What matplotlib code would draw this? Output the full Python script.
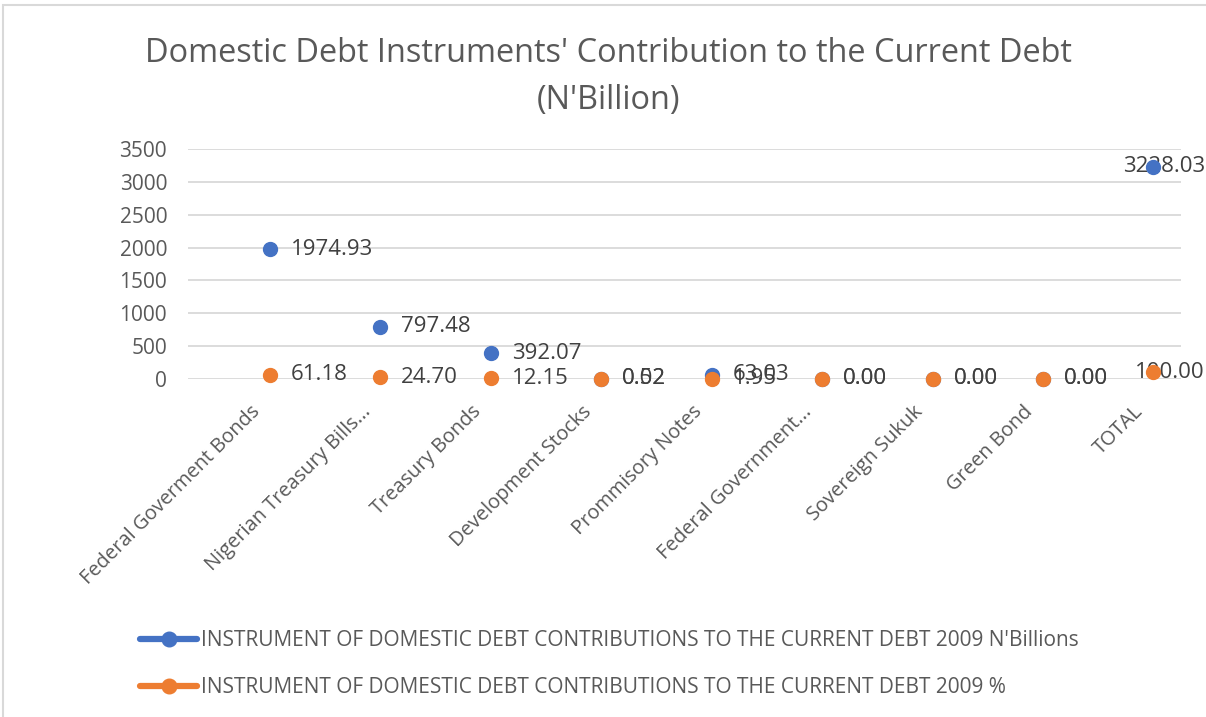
import matplotlib
matplotlib.use("Agg")
import matplotlib.pyplot as plt
from matplotlib.lines import Line2D
from matplotlib.patches import Rectangle
from matplotlib.transforms import ScaledTranslation

plt.rcParams['font.family'] = ['Open Sans', 'DejaVu Sans']

categories = ["Federal Goverment Bonds", "Nigerian Treasury Bills...", "Treasury Bonds",
              "Development Stocks", "Prommisory Notes", "Federal Government...",
              "Sovereign Sukuk", "Green Bond", "TOTAL"]
billions = [1974.93, 797.48, 392.07, 0.52, 63.03, 0.00, 0.00, 0.00, 3228.03]
percent = [61.18, 24.70, 12.15, 0.02, 1.95, 0.00, 0.00, 0.00, 100.00]
yticks = [0, 500, 1000, 1500, 2000, 2500, 3000, 3500]

title_l1 = "Domestic Debt Instruments' Contribution to the Current Debt"
title_l2 = "(N'Billion)"
label_bn = "INSTRUMENT OF DOMESTIC DEBT CONTRIBUTIONS TO THE CURRENT DEBT 2009 N'Billions"
label_pct = "INSTRUMENT OF DOMESTIC DEBT CONTRIBUTIONS TO THE CURRENT DEBT 2009 %"

BLUE = "#4472C4"
ORANGE = "#ED7D31"
GRID = "#D9D9D9"
TICK = "#595959"
LABEL = "#404040"

W, H = 1206, 717
fig = plt.figure(figsize=(W / 100, H / 100), dpi=100)
fig.patch.set_facecolor("white")

# chart-area border (top and left edges visible)
fig.patches.append(Rectangle((3 / W, -0.1), 1.2, (H - 5) / H + 0.1,
                             transform=fig.transFigure, fill=False,
                             edgecolor=GRID, linewidth=1.5))

left, right = 188 / W, 1181 / W
bottom, top = 1 - 379 / H, 1 - 149 / H
ax = fig.add_axes([left, bottom, right - left, top - bottom])

x = list(range(len(categories)))
ax.set_xlim(-0.743, 8.25)
ax.set_ylim(0, 3500)
ax.set_yticks(yticks)
ax.grid(axis="y", color=GRID, linewidth=1.3)
ax.set_axisbelow(True)
for s in ax.spines.values():
    s.set_visible(False)
ax.tick_params(axis="y", length=0, pad=15, labelsize=15, labelcolor=TICK)
ax.tick_params(axis="x", length=0, pad=12, labelsize=14.4, labelcolor=TICK)
ax.set_xticks(x)
ax.set_xticklabels(categories, rotation=45, ha="right", va="top",
                   rotation_mode="anchor")
shift = ScaledTranslation(-20 / 100, -6 / 100, fig.dpi_scale_trans)
for lab in ax.get_xticklabels():
    lab.set_transform(lab.get_transform() + shift)

ms = 10
ax.plot(x, billions, linestyle="none", marker="o", markersize=ms, color=BLUE,
        clip_on=False, zorder=4)
ax.plot(x, percent, linestyle="none", marker="o", markersize=ms, color=ORANGE,
        clip_on=False, zorder=5)

for series in (billions, percent):
    for i, v in enumerate(series):
        if i == len(series) - 1:
            ax.annotate(f"{v:.2f}", (i, v), xytext=(37, 0), textcoords="offset points",
                        ha="right", va="center", fontsize=16, color=LABEL, zorder=3)
        else:
            ax.annotate(f"{v:.2f}", (i, v), xytext=(15, 0), textcoords="offset points",
                        ha="left", va="center", fontsize=16, color=LABEL, zorder=3)

fig.text(608 / W, 1 - 53 / H, title_l1, ha="center", va="center",
         fontsize=23.4, color=TICK)
fig.text(608 / W, 1 - 100 / H, title_l2, ha="center", va="center",
         fontsize=23.4, color=TICK)

handles = [Line2D([], [], color=BLUE, lw=4.5, marker="o", markersize=10.5, solid_capstyle="round"),
           Line2D([], [], color=ORANGE, lw=4.5, marker="o", markersize=10.5, solid_capstyle="round")]
fig.legend(handles, [label_bn, label_pct], loc="upper left",
           bbox_to_anchor=(140 / W, 1 - 630 / H), frameon=False,
           fontsize=15, labelcolor=TICK, handlelength=2.75, handletextpad=0.18,
           labelspacing=1.26, borderpad=0, borderaxespad=0)

fig.savefig("out.png", dpi=100)
